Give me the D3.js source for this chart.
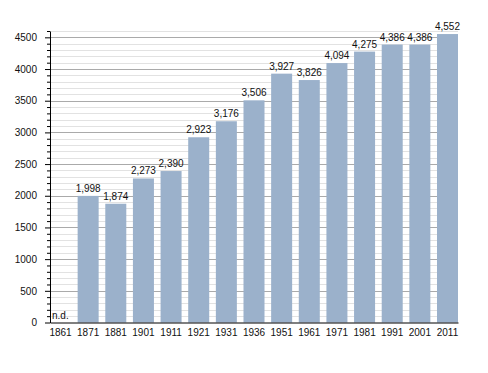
<!DOCTYPE html>
<html lang="en">
<head>
    <meta charset="UTF-8">
    <title>Population by census year</title>
    <script src="https://d3js.org/d3.v7.min.js"></script>
    <style>
        body { margin: 0; background: #fff; }
        text { font-family: "Liberation Sans", Arial, sans-serif; }
    </style>
</head>
<body>
    <svg id="barChart" width="488" height="373"></svg>

    <script>
        // census years and population (null = no data)
        const years = ["1861", "1871", "1881", "1901", "1911", "1921", "1931", "1936",
                       "1951", "1961", "1971", "1981", "1991", "2001", "2011"];
        const population = [null, 1998, 1874, 2273, 2390, 2923, 3176, 3506,
                            3927, 3826, 4094, 4275, 4386, 4386, 4552];
        const majorTicks = [0, 500, 1000, 1500, 2000, 2500, 3000, 3500, 4000, 4500];
        const minorTicks = d3.range(0, 4700, 100);

        const data = years.map((y, i) => ({ year: y, value: population[i] }));

        const plot = { left: 50, right: 458, top: 31, bottom: 322.5 };

        const svg = d3.select("#barChart");

        const x = d3.scaleBand()
                    .domain(years)
                    .range([plot.left, plot.right])
                    .paddingInner(0.24)
                    .paddingOuter(0);

        const y = d3.scaleLinear()
                    .domain([0, 4600])
                    .range([plot.bottom, plot.top]);

        // light grid every 100
        svg.append("g")
            .selectAll("line")
            .data(minorTicks.filter(v => v % 500 !== 0))
            .enter().append("line")
            .attr("x1", plot.left)
            .attr("x2", plot.right)
            .attr("y1", d => Math.round(y(d)) + 0.5)
            .attr("y2", d => Math.round(y(d)) + 0.5)
            .style("stroke", "#e2e2e2");

        // darker grid every 500
        svg.append("g")
            .selectAll("line")
            .data(majorTicks.slice(1))
            .enter().append("line")
            .attr("x1", plot.left)
            .attr("x2", plot.right)
            .attr("y1", d => Math.round(y(d)) + 0.5)
            .attr("y2", d => Math.round(y(d)) + 0.5)
            .style("stroke", "#aaaaaa");

        const withData = data.filter(d => d.value !== null);

        svg.selectAll(".bar")
            .data(withData)
            .enter().append("rect")
            .attr("class", "bar")
            .attr("x", d => x(d.year))
            .attr("width", x.bandwidth())
            .attr("y", d => y(d.value))
            .attr("height", d => plot.bottom - y(d.value))
            .style("fill", "#9bb1cb");

        svg.selectAll(".valueLabel")
            .data(withData)
            .enter().append("text")
            .attr("class", "valueLabel")
            .attr("x", d => x(d.year) + x.bandwidth() / 2)
            .attr("y", d => y(d.value) - 4)
            .style("text-anchor", "middle")
            .style("font-size", "10px")
            .style("fill", "#111")
            .text(d => d3.format(",")(d.value));

        // "no data" marker
        svg.selectAll(".nd")
            .data(data.filter(d => d.value === null))
            .enter().append("text")
            .attr("class", "nd")
            .attr("x", d => x(d.year) + 2)
            .attr("y", plot.bottom - 4)
            .style("font-size", "10px")
            .style("fill", "#111")
            .text("n.d.");

        // y axis with minor ticks
        const yMinor = svg.append("g")
            .attr("transform", "translate(" + plot.left + ",0)")
            .call(d3.axisLeft(y).tickValues(minorTicks.filter(v => v % 500 !== 0)).tickSize(3).tickFormat("").tickSizeOuter(0));
        yMinor.select(".domain").remove();

        const yAxis = svg.append("g")
            .attr("transform", "translate(" + plot.left + ",0)")
            .call(d3.axisLeft(y).tickValues(majorTicks).tickFormat(d3.format("d"))
                  .tickSize(5).tickPadding(8).tickSizeOuter(0));
        yAxis.selectAll("text")
            .style("font-size", "10px")
            .style("font-family", "Liberation Sans, Arial, sans-serif")
            .style("fill", "#111");

        svg.selectAll(".tick line").style("stroke", "#000");

        // x axis
        const xAxis = svg.append("g")
            .attr("transform", "translate(0," + plot.bottom + ")")
            .call(d3.axisBottom(x).tickSize(0).tickPadding(6).tickSizeOuter(0));
        xAxis.select(".domain").style("stroke", "#000");
        xAxis.selectAll("text")
            .style("font-size", "10px")
            .style("font-family", "Liberation Sans, Arial, sans-serif")
            .style("fill", "#111");
    </script>
</body>
</html>
